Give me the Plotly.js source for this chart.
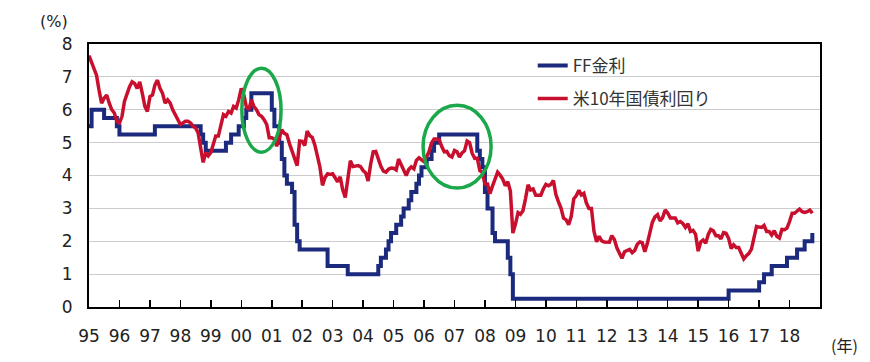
<!DOCTYPE html>
<html>
<head>
<meta charset="utf-8">
<script src="https://cdn.plot.ly/plotly-3.0.1.min.js"></script>
<style>html,body{margin:0;padding:0;background:#fff;}#chart{width:870px;height:362px;}</style>
</head>
<body>
<div id="chart"></div>
<script>
// Series names
const seriesNames = ['FF金利', '米10年国債利回り'];
// First month of data and tick labels (years)
const startYear = 1995;
const endYear = 2018;
const endMonth = 10;
const yearTickLabels = ['95','96','97','98','99','00','01','02','03','04','05','06','07','08','09','10','11','12','13','14','15','16','17','18'];

// FF rate (monthly, %) Jan 1995 - Oct 2018
const ffRate = [
  5.5,6,6,6,6,6,5.75,5.75,5.75,5.75,5.75,5.5,          // 1995
  5.25,5.25,5.25,5.25,5.25,5.25,5.25,5.25,5.25,5.25,5.25,5.25, // 1996
  5.25,5.25,5.5,5.5,5.5,5.5,5.5,5.5,5.5,5.5,5.5,5.5,     // 1997
  5.5,5.5,5.5,5.5,5.5,5.5,5.5,5.5,5.25,5,4.75,4.75,      // 1998
  4.75,4.75,4.75,4.75,4.75,4.75,5,5,5.25,5.25,5.25,5.5,  // 1999
  5.5,5.75,6,6,6.5,6.5,6.5,6.5,6.5,6.5,6.5,6.5,          // 2000
  6,5.5,5.5,5,4.5,4,3.75,3.75,3.5,2.5,2,1.75,            // 2001
  1.75,1.75,1.75,1.75,1.75,1.75,1.75,1.75,1.75,1.75,1.25,1.25, // 2002
  1.25,1.25,1.25,1.25,1.25,1.25,1,1,1,1,1,1,             // 2003
  1,1,1,1,1,1,1.25,1.5,1.5,1.75,2,2.25,                  // 2004
  2.25,2.5,2.5,2.75,3,3,3.25,3.5,3.5,3.75,4,4.25,        // 2005
  4.25,4.5,4.5,4.75,5,5,5.25,5.25,5.25,5.25,5.25,5.25,   // 2006
  5.25,5.25,5.25,5.25,5.25,5.25,5.25,5.25,5.25,4.75,4.5,4.25, // 2007
  3.5,3,3,2.25,2,2,2,2,2,1.5,1,0.25,                     // 2008
  0.25,0.25,0.25,0.25,0.25,0.25,0.25,0.25,0.25,0.25,0.25,0.25, // 2009
  0.25,0.25,0.25,0.25,0.25,0.25,0.25,0.25,0.25,0.25,0.25,0.25, // 2010
  0.25,0.25,0.25,0.25,0.25,0.25,0.25,0.25,0.25,0.25,0.25,0.25, // 2011
  0.25,0.25,0.25,0.25,0.25,0.25,0.25,0.25,0.25,0.25,0.25,0.25, // 2012
  0.25,0.25,0.25,0.25,0.25,0.25,0.25,0.25,0.25,0.25,0.25,0.25, // 2013
  0.25,0.25,0.25,0.25,0.25,0.25,0.25,0.25,0.25,0.25,0.25,0.25, // 2014
  0.25,0.25,0.25,0.25,0.25,0.25,0.25,0.25,0.25,0.25,0.25,0.25, // 2015
  0.5,0.5,0.5,0.5,0.5,0.5,0.5,0.5,0.5,0.5,0.5,0.5,       // 2016
  0.75,0.75,1,1,1,1.25,1.25,1.25,1.25,1.25,1.25,1.5,     // 2017
  1.5,1.5,1.5,1.75,1.75,1.75,2,2,2,2.25                  // 2018
];

// US 10-year Treasury yield (monthly, %) Jan 1995 - Oct 2018
const ust10y = [
  7.65,7.45,7.2,7.05,6.6,6.2,6.35,6.45,6.2,6.0,5.9,5.65,      // 1995
  5.6,5.8,6.25,6.5,6.7,6.85,6.8,6.65,6.85,6.5,6.1,5.95,       // 1996
  6.4,6.45,6.75,6.9,6.65,6.5,6.2,6.3,6.2,6.0,5.85,5.75,       // 1997
  5.55,5.6,5.65,5.65,5.6,5.5,5.45,5.3,4.85,4.4,4.7,4.6,       // 1998
  4.7,5.0,5.2,5.2,5.5,5.85,5.8,5.95,5.9,6.1,6.05,6.3,         // 1999
  6.65,6.45,6.1,6.0,6.3,6.1,6.0,5.85,5.8,5.7,5.55,5.15,       // 2000
  5.15,5.1,4.89,5.14,5.39,5.28,5.24,4.97,4.73,4.57,4.3,5.05,  // 2001
  5.04,4.91,5.35,5.21,5.16,4.93,4.65,4.26,3.7,3.94,4.05,4.03, // 2002
  4.05,3.9,3.81,3.96,3.57,3.33,3.98,4.45,4.27,4.29,4.3,4.27,  // 2003
  4.15,4.08,3.83,4.35,4.72,4.73,4.5,4.28,4.13,4.1,4.19,4.23,  // 2004
  4.22,4.17,4.5,4.34,4.14,4.0,4.18,4.26,4.2,4.46,4.54,4.47,   // 2005
  4.42,4.57,4.72,4.99,5.11,5.11,5.09,4.88,4.72,4.73,4.6,4.56, // 2006
  4.76,4.72,4.56,4.69,4.75,5.05,5.0,4.67,4.52,4.53,4.15,4.1,  // 2007
  3.74,3.74,3.45,3.68,3.88,4.1,4.01,3.89,3.69,3.81,3.53,2.25, // 2008
  2.52,2.87,2.82,2.93,3.29,3.72,3.56,3.59,3.4,3.39,3.4,3.59,  // 2009
  3.73,3.69,3.73,3.85,3.42,3.2,3.01,2.7,2.65,2.5,2.76,3.29,   // 2010
  3.39,3.55,3.41,3.46,3.17,3.0,3.0,2.3,1.98,2.15,2.01,1.98,   // 2011
  1.97,1.97,2.17,2.05,1.8,1.62,1.48,1.68,1.72,1.75,1.65,1.72, // 2012
  1.91,1.98,1.96,1.68,1.93,2.3,2.58,2.74,2.81,2.62,2.72,2.95, // 2013
  2.86,2.71,2.72,2.71,2.56,2.6,2.54,2.42,2.53,2.3,2.33,2.21,  // 2014
  1.7,1.98,2.04,1.94,2.2,2.36,2.32,2.17,2.17,2.07,2.26,2.24,  // 2015
  2.09,1.78,1.89,1.81,1.81,1.64,1.46,1.56,1.63,1.76,2.14,2.45,// 2016
  2.43,2.42,2.48,2.3,2.3,2.19,2.32,2.15,2.1,2.36,2.35,2.4,    // 2017
  2.6,2.85,2.85,2.9,2.98,2.9,2.88,2.9,2.95,2.85               // 2018
];

// month axis
const months = [];
for (let y = startYear; y <= endYear; y++) {
  for (let m = 1; m <= 12; m++) {
    if (y === endYear && m > endMonth) break;
    months.push(y + '-' + String(m).padStart(2, '0') + '-01');
  }
}
const tickVals = yearTickLabels.map((_, i) => (startYear + i) + '-01-01');

const traces = [
  {x: months, y: ffRate, name: seriesNames[0], type: 'scatter', mode: 'lines',
   legendgroup: 'a', line: {color: '#1b2a7c', width: 4, shape: 'hv'}},
  {x: months, y: ust10y, name: seriesNames[1], type: 'scatter', mode: 'lines',
   legendgroup: 'b', line: {color: '#c8102e', width: 3.5}}
];

const tickFont = {family: 'DejaVu Sans, Verdana, sans-serif', size: 17, color: '#222'};

const layout = {
  width: 870, height: 362,
  margin: {l: 89, r: 50, t: 44, b: 55},
  paper_bgcolor: '#fff', plot_bgcolor: '#fff',
  showlegend: true,
  legend: {x: 0.607, y: 0.985, xanchor: 'left', yanchor: 'top', bgcolor: 'rgba(0,0,0,0)',
           traceorder: 'grouped', tracegroupgap: 8,
           font: {family: 'Noto Sans CJK JP, sans-serif', size: 17, color: '#333'}},
  xaxis: {type: 'date', range: [startYear + '-01-01', (endYear + 1) + '-01-01'],
          tickmode: 'array', tickvals: tickVals, ticktext: yearTickLabels,
          ticks: 'inside', ticklen: 7, tickwidth: 1.5, tickcolor: '#000',
          showline: true, linecolor: '#000', linewidth: 2, mirror: true,
          showgrid: false, zeroline: false, tickfont: tickFont, ticklabelstandoff: 13},
  yaxis: {range: [0, 8], tickmode: 'linear', tick0: 0, dtick: 1,
          showgrid: true, gridcolor: '#cccccc', gridwidth: 1,
          showline: true, linecolor: '#000', linewidth: 2, mirror: true,
          ticks: '', zeroline: false, tickfont: tickFont, ticklabelstandoff: 11},
  shapes: [
    {type: 'circle', xref: 'x', yref: 'y', x0: '2000-01-08', x1: '2001-04-22', y0: 4.71, y1: 7.26,
     line: {color: '#1aa84a', width: 3.5}},
    {type: 'circle', xref: 'x', yref: 'y', x0: '2005-12-20', x1: '2008-03-15', y0: 3.62, y1: 6.14,
     line: {color: '#1aa84a', width: 3.5}}
  ],
  annotations: [
    {text: '(%)', xref: 'paper', yref: 'paper', x: -0.048, y: 1.084, xanchor: 'center', yanchor: 'middle',
     showarrow: false, font: {family: 'DejaVu Sans, sans-serif', size: 16, color: '#222'}},
    {text: '(年)', xref: 'paper', yref: 'paper', x: 1.034, y: -0.144, xanchor: 'center', yanchor: 'middle',
     showarrow: false, font: {family: 'Noto Sans CJK JP, sans-serif', size: 16, color: '#222'}}
  ]
};

Plotly.newPlot('chart', traces, layout, {displayModeBar: false, staticPlot: true});
</script>
</body>
</html>
